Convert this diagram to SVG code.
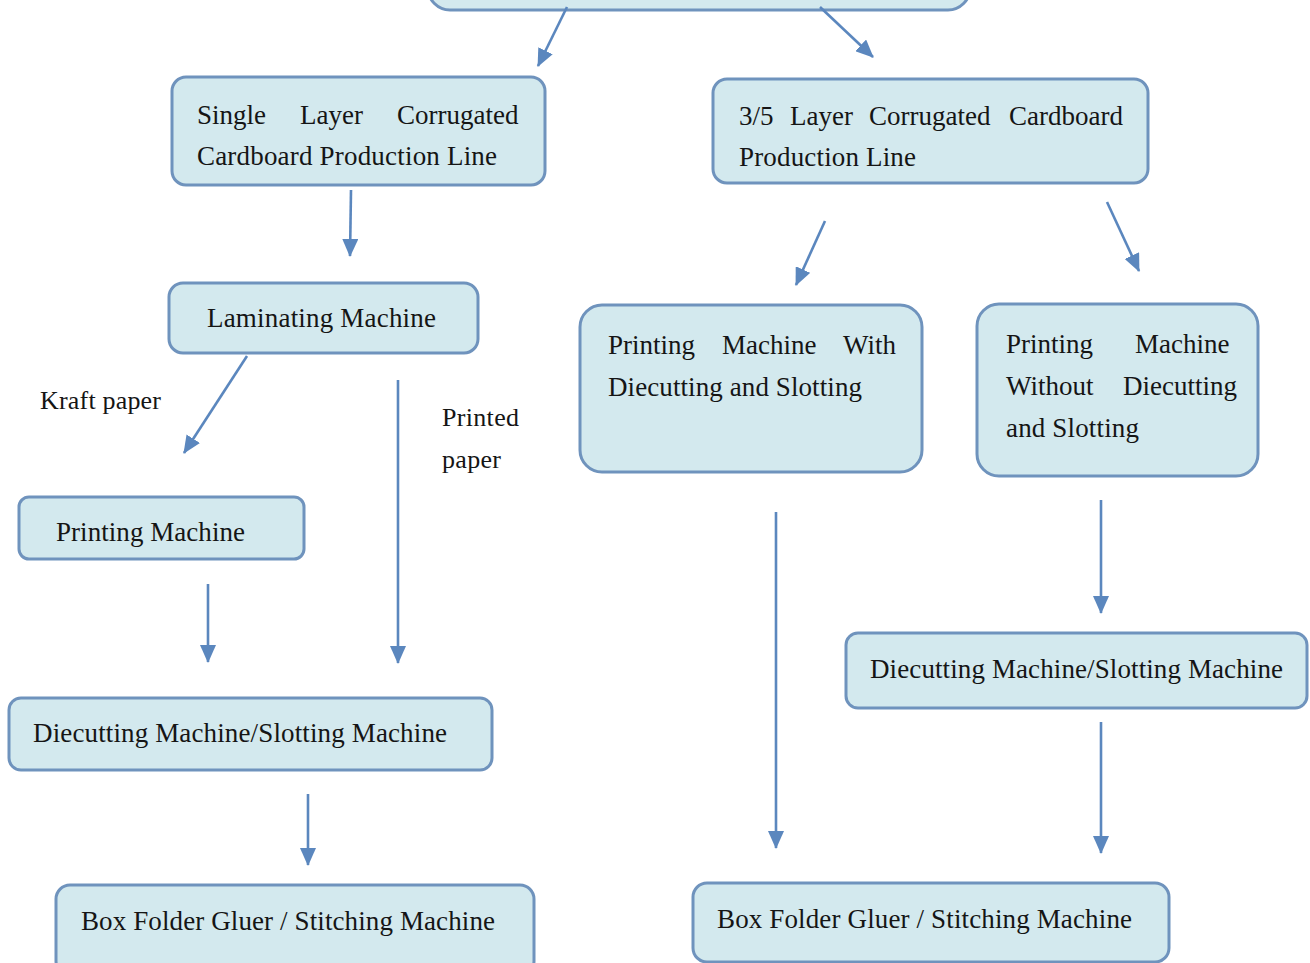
<svg xmlns="http://www.w3.org/2000/svg" width="1310" height="963" viewBox="0 0 1310 963">
<style>
.box{fill:#d3e9ee;stroke:#6f93bd;stroke-width:3}
.t{font-size:27px;fill:#151515}
.lbl{font-size:26px;fill:#151515}
.c{stroke:#5b87be;stroke-width:2.6;fill:none;marker-end:url(#ah)}
</style>
<defs>
<marker id="ah" markerUnits="userSpaceOnUse" markerWidth="18" markerHeight="16" refX="17" refY="8" orient="auto">
<path d="M0,0 L18,8 L0,16 Z" fill="#5b87be"/>
</marker>
</defs>
<rect width="1310" height="963" fill="#ffffff"/>

<g font-family="'Liberation Serif', 'DejaVu Serif', 'Times New Roman', Times, serif">
<g id="top"><rect class="box" x="428" y="-40" width="542" height="50" rx="22"/></g>

<g id="single-layer">
<rect class="box" x="172" y="77" width="373" height="108" rx="14"/>
<text class="t" y="124"><tspan x="197">Single</tspan><tspan x="300">Layer</tspan><tspan x="397">Corrugated</tspan></text>
<text class="t" x="197" y="165" textLength="300" lengthAdjust="spacing">Cardboard Production Line</text>
</g>

<g id="multi-layer">
<rect class="box" x="713" y="79" width="435" height="104" rx="14"/>
<text class="t" y="125"><tspan x="739">3/5</tspan><tspan x="790">Layer</tspan><tspan x="869">Corrugated</tspan><tspan x="1009">Cardboard</tspan></text>
<text class="t" x="739" y="166" textLength="177" lengthAdjust="spacing">Production Line</text>
</g>

<g id="laminating">
<rect class="box" x="169" y="283" width="309" height="70" rx="14"/>
<text class="t" x="207" y="327" textLength="229" lengthAdjust="spacing">Laminating Machine</text>
</g>

<g id="printing-with">
<rect class="box" x="580" y="305" width="342" height="167" rx="22"/>
<text class="t" y="354"><tspan x="608">Printing</tspan><tspan x="722">Machine</tspan><tspan x="843">With</tspan></text>
<text class="t" x="608" y="396" textLength="254" lengthAdjust="spacing">Diecutting and Slotting</text>
</g>

<g id="printing-without">
<rect class="box" x="977" y="304" width="281" height="172" rx="22"/>
<text class="t" y="353"><tspan x="1006">Printing</tspan><tspan x="1135">Machine</tspan></text>
<text class="t" y="395"><tspan x="1006">Without</tspan><tspan x="1123">Diecutting</tspan></text>
<text class="t" x="1006" y="437" textLength="133" lengthAdjust="spacing">and Slotting</text>
</g>

<g id="printing-left">
<rect class="box" x="19" y="497" width="285" height="62" rx="10"/>
<text class="t" x="56" y="541" textLength="189" lengthAdjust="spacing">Printing Machine</text>
</g>

<g id="diecut-left">
<rect class="box" x="9" y="698" width="483" height="72" rx="12"/>
<text class="t" x="33" y="742" textLength="414" lengthAdjust="spacing">Diecutting Machine/Slotting Machine</text>
</g>

<g id="diecut-right">
<rect class="box" x="846" y="633" width="461" height="75" rx="12"/>
<text class="t" x="870" y="678" textLength="413" lengthAdjust="spacing">Diecutting Machine/Slotting Machine</text>
</g>

<g id="folder-left">
<rect class="box" x="56" y="885" width="478" height="90" rx="14"/>
<text class="t" x="81" y="930" textLength="414" lengthAdjust="spacing">Box Folder Gluer / Stitching Machine</text>
</g>

<g id="folder-right">
<rect class="box" x="693" y="883" width="476" height="79" rx="14"/>
<text class="t" x="717" y="928" textLength="415" lengthAdjust="spacing">Box Folder Gluer / Stitching Machine</text>
</g>

<g id="labels">
<text class="lbl" x="40" y="409" textLength="121" lengthAdjust="spacing">Kraft paper</text>
<text class="lbl" x="442" y="426" textLength="77" lengthAdjust="spacing">Printed</text>
<text class="lbl" x="442" y="468" textLength="59" lengthAdjust="spacing">paper</text>
</g>
</g>

<g id="connectors">
<line class="c" x1="567" y1="7" x2="538" y2="66"/>
<line class="c" x1="820" y1="7" x2="873" y2="57"/>
<line class="c" x1="351" y1="190" x2="350" y2="256"/>
<line class="c" x1="247" y1="356" x2="184" y2="453"/>
<line class="c" x1="398" y1="380" x2="398" y2="663"/>
<line class="c" x1="825" y1="221" x2="796" y2="285"/>
<line class="c" x1="1107" y1="202" x2="1139" y2="271"/>
<line class="c" x1="208" y1="584" x2="208" y2="662"/>
<line class="c" x1="776" y1="512" x2="776" y2="848"/>
<line class="c" x1="1101" y1="500" x2="1101" y2="613"/>
<line class="c" x1="308" y1="794" x2="308" y2="865"/>
<line class="c" x1="1101" y1="722" x2="1101" y2="853"/>
</g>
</svg>
